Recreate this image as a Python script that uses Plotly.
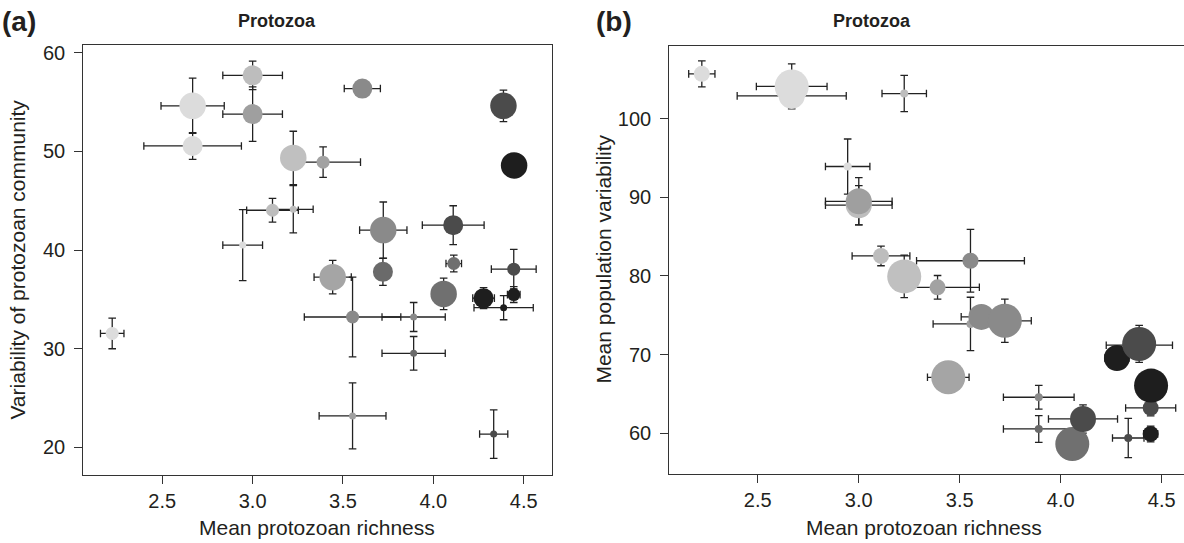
import plotly.graph_objects as go

# ---- data (one entry per community; shared richness on x) ----
richness = [2.223, 2.945, 2.668, 2.668, 3.110, 3.225, 3.000, 3.000, 3.225, 3.390,
            3.443, 3.553, 3.553, 3.721, 3.891, 3.891, 4.113, 4.057, 4.278, 4.389,
            4.445, 4.445, 4.334, 3.607, 4.388, 4.447, 3.723, 4.110]
richness_err = [0.065, 0.110, 0.270, 0.175, 0.143, 0.110, 0.165, 0.165, 0.050, 0.207,
                0.103, 0.267, 0.185, 0.040, 0.175, 0.175, 0.043, 0.050, 0.060, 0.164,
                0.124, 0.035, 0.078, 0.100, 0.050, 0.030, 0.131, 0.171]
grey = ["#dcdcdc", "#dcdcdc", "#dcdcdc", "#dcdcdc", "#bdbdbd", "#bdbdbd", "#bdbdbd", "#9f9f9f",
        "#c0c0c0", "#a2a2a2", "#a5a5a5", "#8a8a8a", "#a0a0a0", "#6a6a6a", "#8a8a8a", "#6a6a6a",
        "#6e6e6e", "#707070", "#1e1e1e", "#1e1e1e", "#4b4b4b", "#1e1e1e", "#4b4b4b", "#8a8a8a",
        "#4b4b4b", "#1e1e1e", "#8a8a8a", "#4b4b4b"]
size_class = [2, 1, 3, 4, 2, 1, 3, 3, 4, 2, 4, 2, 1, 3, 1, 1, 2, 4, 3, 1, 2, 2, 1, 3, 4, 4, 4, 3]

# panel (a): variability of protozoan community
comm_var = [31.54, 40.50, 50.55, 54.62, 44.03, 44.13, 57.71, 53.78, 49.34, 48.91,
            37.25, 33.21, 23.18, 37.79, 33.21, 29.53, 38.63, 35.55, 35.12, 34.15,
            38.06, 35.48, 21.34, 56.37, 54.62, 48.57, 42.02, 42.52]
comm_var_err = [1.55, 3.60, 1.35, 2.80, 1.20, 2.40, 1.45, 2.77, 2.70, 1.55,
                1.70, 4.05, 3.34, 1.37, 1.47, 1.70, 0.85, 1.60, 1.07, 1.22,
                2.00, 0.80, 2.46, 0.80, 1.60, 0.50, 2.85, 1.97]

# panel (b): mean population variability
pop_var = [105.7, 93.92, 102.9, 104.1, 82.55, 103.2, 89.0, 89.5, 79.95, 78.56,
           67.12, 81.94, 73.9, 74.3, 64.58, 60.55, 61.8, 58.64, 69.58, 71.2,
           63.22, 59.92, 59.4, 74.8, 71.36, 66.06, 74.3, 61.82]
pop_var_err = [1.65, 3.50, 1.40, 2.86, 1.25, 2.30, 2.50, 3.00, 2.70, 1.50,
               1.50, 4.00, 3.40, 1.30, 1.50, 1.70, 0.80, 1.50, 1.00, 1.20,
               1.00, 1.00, 2.50, 1.00, 2.35, 0.50, 2.75, 1.80]

x_ticks = [2.5, 3.0, 3.5, 4.0, 4.5]
x_tick_text = ["2.5", "3.0", "3.5", "4.0", "4.5"]
y_ticks_a = [20, 30, 40, 50, 60]
y_ticks_b = [60, 70, 80, 90, 100]

# ---- styling ----
W, H = 1184, 543
FONT = "Liberation Sans, Arial, Helvetica, sans-serif"
TXT = "#231f20"
AX = "#333333"
diam_a = {1: 7, 2: 13, 3: 20, 4: 26.5}
diam_b = {1: 8, 2: 16, 3: 26, 4: 34}

def px(xp):
    return xp / W

def py(yp):
    return 1 - yp / H

err_style = dict(type="data", color="#222222", thickness=1.3, width=3.8, visible=True)

fig = go.Figure()
fig.add_trace(go.Scatter(
    x=richness, y=comm_var, mode="markers",
    marker=dict(color=grey, size=[diam_a[s] for s in size_class], line=dict(width=0), opacity=1),
    error_x=dict(array=richness_err, **err_style),
    error_y=dict(array=comm_var_err, **err_style),
    xaxis="x", yaxis="y", showlegend=False, cliponaxis=False, hoverinfo="skip"))
fig.add_trace(go.Scatter(
    x=richness, y=pop_var, mode="markers",
    marker=dict(color=grey, size=[diam_b[s] for s in size_class], line=dict(width=0), opacity=1),
    error_x=dict(array=richness_err, **err_style),
    error_y=dict(array=pop_var_err, **err_style),
    xaxis="x2", yaxis="y2", showlegend=False, cliponaxis=True, hoverinfo="skip"))

axis_common = dict(showgrid=False, zeroline=False, showline=True, linecolor=AX, linewidth=1.3,
                   ticks="outside", ticklen=8, tickwidth=1.2, tickcolor=AX,
                   tickfont=dict(family=FONT, size=20, color=TXT))
x_common = dict(tickvals=x_ticks, ticktext=x_tick_text, ticklabelstandoff=0, **axis_common)
y_common = dict(ticklabelstandoff=5, **axis_common)

fig.update_layout(
    width=W, height=H, paper_bgcolor="white", plot_bgcolor="white",
    margin=dict(l=0, r=0, t=0, b=0), showlegend=False,
    xaxis=dict(domain=[px(83.3), px(551.7)], range=[2.063, 4.655], mirror=True, anchor="y", **x_common),
    yaxis=dict(domain=[py(474.3), py(42.5)], range=[17.22, 60.76], tickvals=y_ticks_a,
               mirror=True, anchor="x", **y_common),
    xaxis2=dict(domain=[px(669.3), 1.0], range=[2.062, 4.610], mirror=True, anchor="y2", **x_common),
    yaxis2=dict(domain=[py(473.8), py(42.8)], range=[54.8, 109.3], tickvals=y_ticks_b,
                mirror=False, anchor="x2", **y_common),
)

ann = []
def add_text(text, x, y, size, bold=False, angle=0, xanchor="center"):
    ann.append(dict(text=f"<b>{text}</b>" if bold else text, x=px(x), y=py(y), xref="paper", yref="paper",
                    showarrow=False, xanchor=xanchor, yanchor="middle", textangle=angle,
                    font=dict(family=FONT, size=size, color=TXT)))

add_text("(a)", 0, 19, 28, bold=True, xanchor="left")
add_text("(b)", 594, 19, 28, bold=True, xanchor="left")
add_text("Protozoa", 277, 18, 18, bold=True)
add_text("Protozoa", 872, 18, 18, bold=True)
add_text("Mean protozoan richness", 317, 527, 21)
add_text("Mean protozoan richness", 924, 527, 21)
add_text("Variability of protozoan community", 18, 258, 21, angle=-90)
add_text("Mean population variability", 604, 258, 21, angle=-90)
fig.update_layout(annotations=ann)

fig.write_html("out.html", config={"displayModeBar": False},
               post_script="document.body.style.margin='0px';")
